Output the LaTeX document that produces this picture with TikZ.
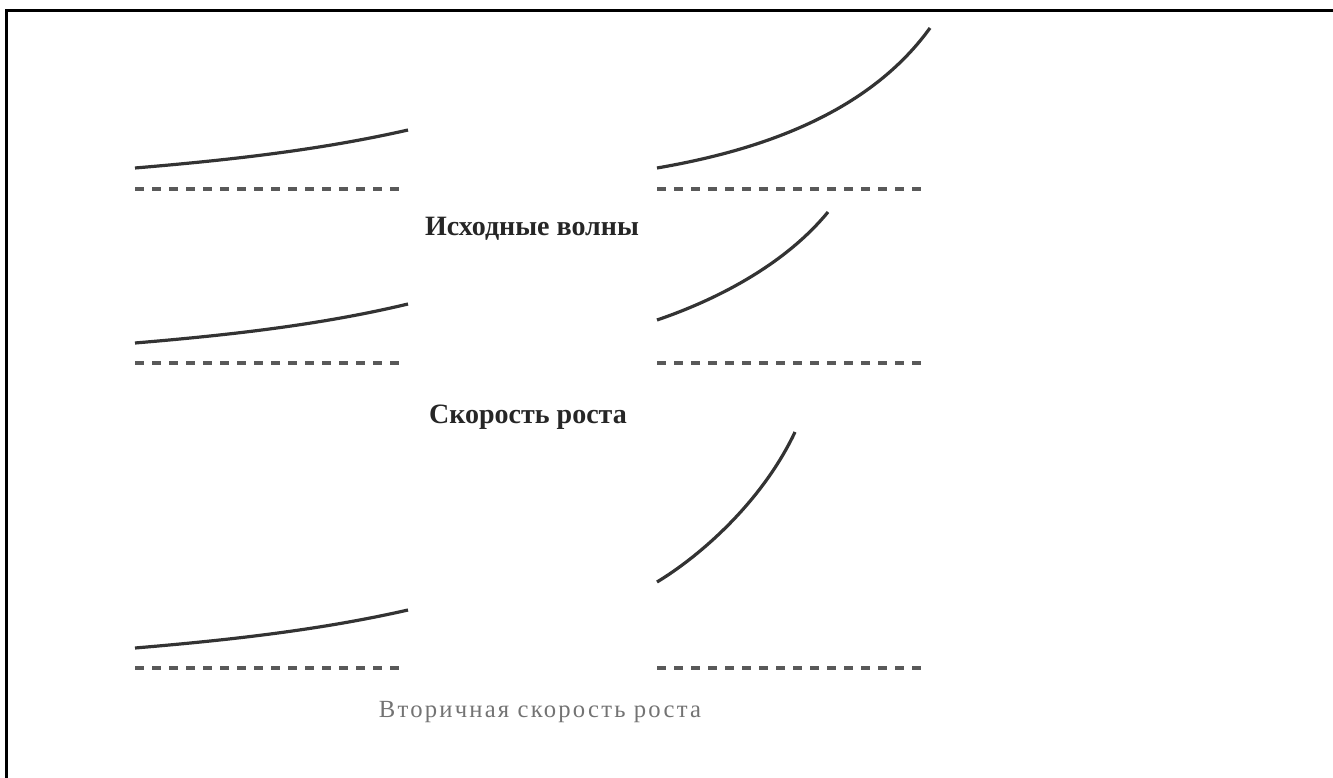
\documentclass[tikz,border=0pt]{standalone}
\usepackage{fontspec}
\setmainfont{Liberation Serif}
\newfontfamily\capfont[LetterSpace=9]{Liberation Serif}
\tikzset{
  curve/.style={draw=black!80, line width=2.4pt},
  base/.style={draw=black!65, line width=2.8pt, dash pattern=on 6.75pt off 6pt},
  title/.style={anchor=base, inner sep=0pt, font=\bfseries\fontsize{21}{24}\selectfont, text=black!85},
  sub/.style={anchor=base, inner sep=0pt, font=\capfont\fontsize{18.5}{22}\selectfont, text=black!55},
  frame/.style={draw=black, line width=2.4pt}
}
\begin{document}
\begin{tikzpicture}[x=0.75pt,y=-0.75pt]
\useasboundingbox (0,0) rectangle (1333,777);
% frame
\draw[frame] (6.5,790) -- (6.5,10.5) -- (1340,10.5);
% left column
\draw[curve] (135,168) .. controls (230,160) and (320,150) .. (408,130);
\draw[base] (135,189) -- (404,189);
\draw[curve] (135,343) .. controls (230,335) and (320,325) .. (408,304);
\draw[base] (135,363) -- (404,363);
\draw[curve] (135,648) .. controls (230,640) and (320,630) .. (408,610);
\draw[base] (135,668) -- (404,668);
% right column
\draw[curve] (657,168) .. controls (750,152) and (865,118) .. (930,28);
\draw[base] (657,189) -- (926,189);
\draw[curve] (657,320) .. controls (710,302) and (782,268) .. (828,212);
\draw[base] (657,363) -- (926,363);
\draw[curve] (657,582) .. controls (700,556) and (762,502) .. (795,432);
\draw[base] (657,668) -- (926,668);
% texts
\node[title] (t1) at (532,235) {Исходные волны};
\node[title] (t2) at (528,423) {Скорость роста};
\node[sub] (t3) at (540,717) {Вторичная скорость роста};
\end{tikzpicture}
\end{document}
